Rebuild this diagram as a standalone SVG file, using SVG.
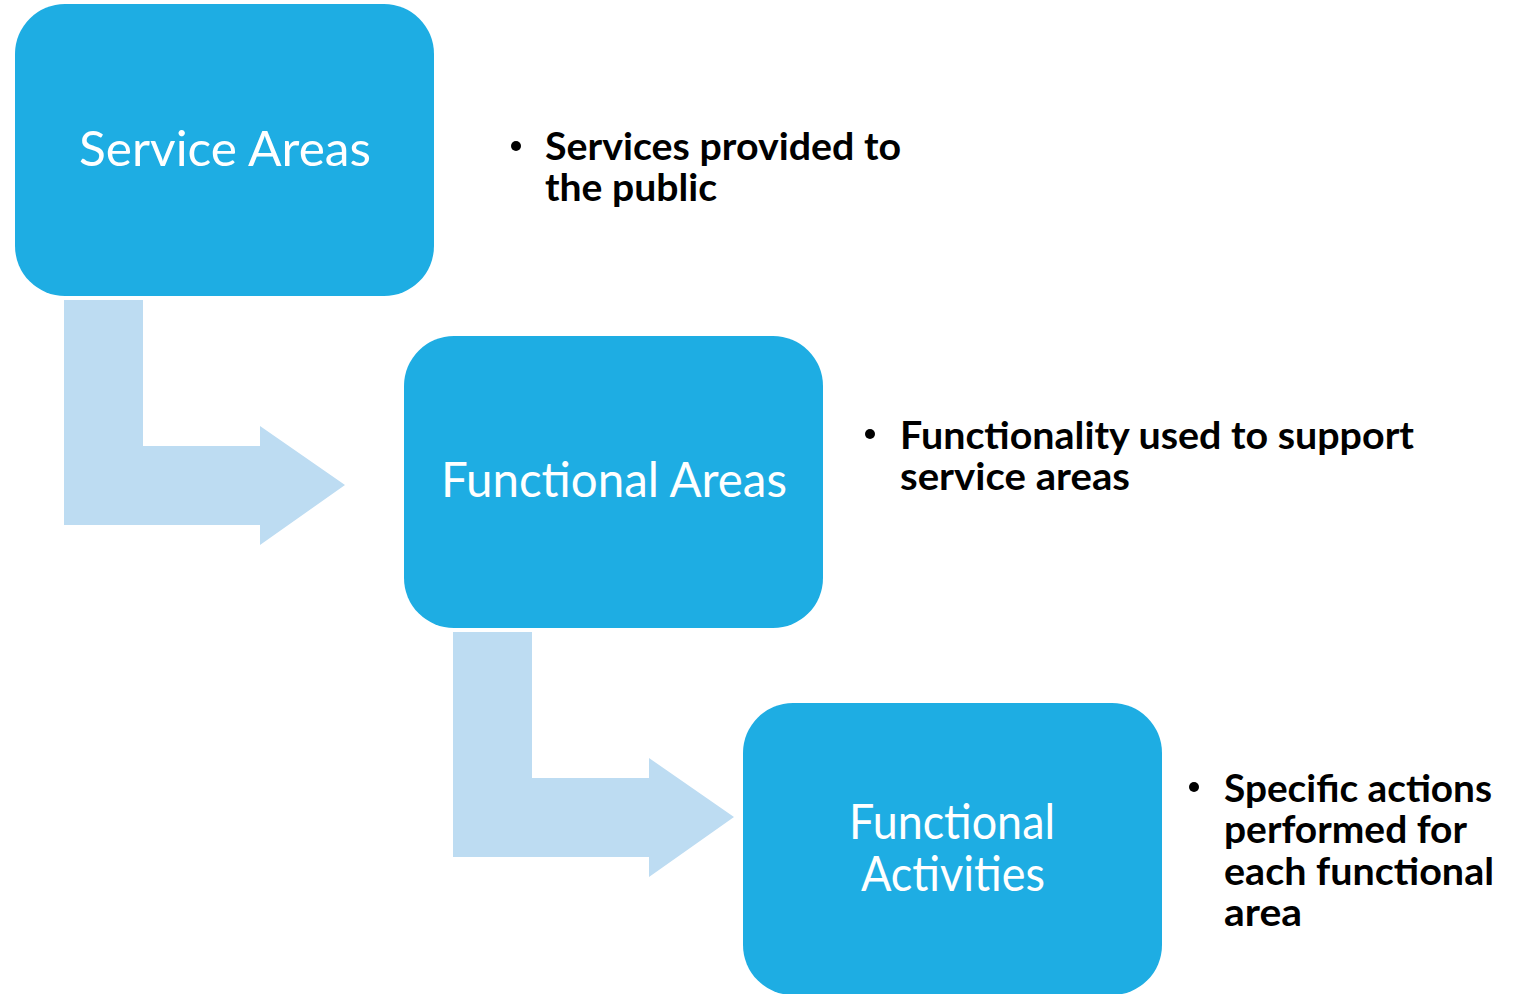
<svg xmlns="http://www.w3.org/2000/svg" width="1524" height="994" viewBox="0 0 1524 994">
<style>
.box{fill:#1EADE3}
.arr{fill:#BDDCF2}
.bt{font-family:Lato,"Open Sans","DejaVu Sans",sans-serif;font-size:48px;fill:#FFFFFF;text-anchor:middle}
.bl{font-family:Lato,"Open Sans","DejaVu Sans",sans-serif;font-size:38px;font-weight:bold;fill:#000000}
</style>
<rect width="1524" height="994" fill="#FFFFFF"/>
<g id="connectors">
<path class="arr" d="M64,300 H143 V446 H260 V426 L345,485 L260,545 V525 H64 Z"/>
<path class="arr" d="M453,632 H532 V778 H649 V758 L734,817 L649,877 V857 H453 Z"/>
</g>
<g id="service-areas">
<rect class="box" x="15" y="4" width="419" height="292" rx="50"/>
<text class="bt" x="225" y="166" textLength="292" lengthAdjust="spacingAndGlyphs">Service Areas</text>
</g>
<g id="functional-areas">
<rect class="box" x="404" y="336" width="419" height="292" rx="50"/>
<text class="bt" x="614" y="497" textLength="346" lengthAdjust="spacingAndGlyphs">Functional Areas</text>
</g>
<g id="functional-activities">
<rect class="box" x="743" y="703" width="419" height="292" rx="50"/>
<text class="bt" x="952" y="839" textLength="206" lengthAdjust="spacingAndGlyphs">Functional</text>
<text class="bt" x="953" y="891" textLength="184" lengthAdjust="spacingAndGlyphs">Activities</text>
</g>
<g id="note-1">
<circle cx="516" cy="146" r="5"/>
<text class="bl" x="545" y="160" textLength="356" lengthAdjust="spacingAndGlyphs">Services provided to</text>
<text class="bl" x="545" y="201" textLength="172" lengthAdjust="spacingAndGlyphs">the public</text>
</g>
<g id="note-2">
<circle cx="870" cy="434" r="5"/>
<text class="bl" x="900" y="449" textLength="514" lengthAdjust="spacingAndGlyphs">Functionality used to support</text>
<text class="bl" x="900" y="490" textLength="230" lengthAdjust="spacingAndGlyphs">service areas</text>
</g>
<g id="note-3">
<circle cx="1194" cy="787" r="5"/>
<text class="bl" x="1224" y="802" textLength="268" lengthAdjust="spacingAndGlyphs">Specific actions</text>
<text class="bl" x="1224" y="843" textLength="243" lengthAdjust="spacingAndGlyphs">performed for</text>
<text class="bl" x="1224" y="885" textLength="270" lengthAdjust="spacingAndGlyphs">each functional</text>
<text class="bl" x="1224" y="926" textLength="78" lengthAdjust="spacingAndGlyphs">area</text>
</g>
</svg>
